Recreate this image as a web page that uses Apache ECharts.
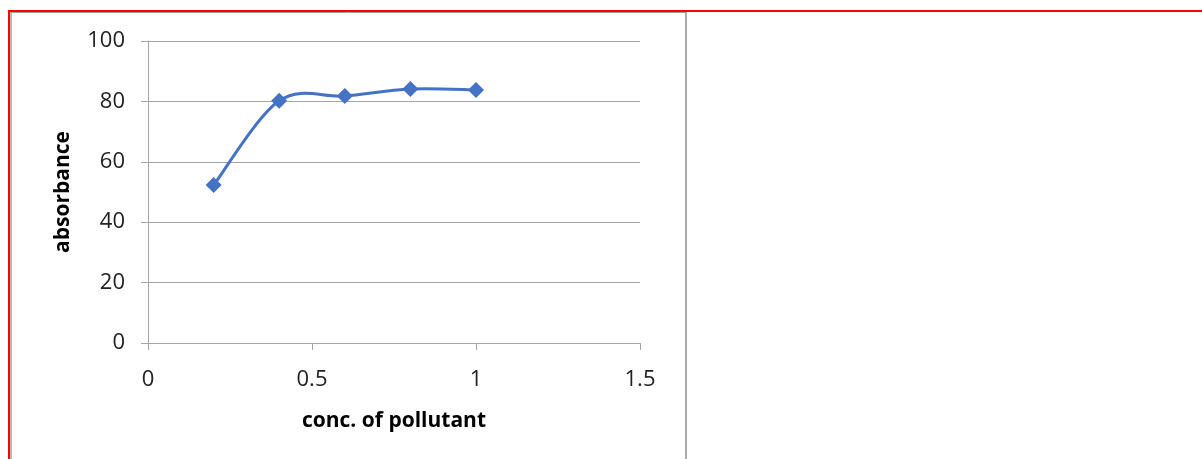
<!DOCTYPE html>
<html>
<head>
<meta charset="utf-8">
<title>absorbance vs conc. of pollutant</title>
<script src="https://cdn.jsdelivr.net/npm/echarts@6/dist/echarts.min.js"></script>
<style>
  html, body { margin: 0; padding: 0; background: #ffffff; }
  #chart { width: 1202px; height: 459px; }
</style>
</head>
<body>
<div id="chart"></div>
<script>
// Concentration of pollutant (x) and measured absorbance (y)
const concentration = [0.2, 0.4, 0.6, 0.8, 1.0];
const absorbance = [52.3, 80.2, 81.8, 84.1, 83.8];

const xTicks = { min: 0, max: 1.5, interval: 0.5 };
const yTicks = { min: 0, max: 100, interval: 20 };

const xTitle = 'conc. of pollutant';
const yTitle = 'absorbance';

const FONT = '"Open Sans", "Noto Sans", sans-serif';
const GRID_GRAY = '#a6a6a6';
const LINE_BLUE = '#4472c4';

const points = concentration.map((c, i) => [c, absorbance[i]]);

// Smoothed connector: Catmull-Rom style cubic segments through the data points,
// positioned with the grid's own coordinate system.
function renderSmoothCurve(params, api) {
  if (params.dataIndex !== 0) return null;
  const px = points.map(p => api.coord(p));
  const n = px.length;
  const children = [];
  for (let i = 0; i < n - 1; i++) {
    const p0 = px[Math.max(i - 1, 0)];
    const p1 = px[i];
    const p2 = px[i + 1];
    const p3 = px[Math.min(i + 2, n - 1)];
    children.push({
      type: 'bezierCurve',
      shape: {
        x1: p1[0], y1: p1[1],
        x2: p2[0], y2: p2[1],
        cpx1: p1[0] + (p2[0] - p0[0]) / 6,
        cpy1: p1[1] + (p2[1] - p0[1]) / 6,
        cpx2: p2[0] - (p3[0] - p1[0]) / 6,
        cpy2: p2[1] - (p3[1] - p1[1]) / 6
      },
      style: { stroke: LINE_BLUE, lineWidth: 3, fill: null, lineCap: 'round' }
    });
  }
  return { type: 'group', children: children };
}

const chart = echarts.init(document.getElementById('chart'), null, { renderer: 'canvas' });

chart.setOption({
  backgroundColor: '#ffffff',
  animation: false,
  grid: { left: 148, right: 562, top: 41, bottom: 116, containLabel: false },
  xAxis: {
    type: 'value',
    min: xTicks.min,
    max: xTicks.max,
    interval: xTicks.interval,
    name: xTitle,
    nameLocation: 'middle',
    nameGap: 68,
    nameTextStyle: { fontFamily: FONT, fontSize: 21, fontWeight: 'bold', color: '#000000' },
    axisLine: { show: true, lineStyle: { color: GRID_GRAY, width: 1 } },
    axisTick: { show: true, inside: false, length: 7, lineStyle: { color: GRID_GRAY } },
    axisLabel: { fontFamily: FONT, fontSize: 22, color: '#222222', margin: 26 },
    splitLine: { show: false }
  },
  yAxis: {
    type: 'value',
    min: yTicks.min,
    max: yTicks.max,
    interval: yTicks.interval,
    name: yTitle,
    nameLocation: 'middle',
    nameRotate: 90,
    nameGap: 74,
    nameTextStyle: { fontFamily: FONT, fontSize: 21, fontWeight: 'bold', color: '#000000' },
    axisLine: { show: true, lineStyle: { color: GRID_GRAY, width: 1 } },
    axisTick: { show: true, inside: false, length: 7, lineStyle: { color: GRID_GRAY } },
    axisLabel: { fontFamily: FONT, fontSize: 22, color: '#222222', margin: 23 },
    splitLine: { show: true, lineStyle: { color: GRID_GRAY, width: 1 } }
  },
  series: [
    {
      type: 'custom',
      data: points,
      renderItem: renderSmoothCurve,
      z: 2,
      silent: true
    },
    {
      type: 'scatter',
      data: points,
      symbol: 'diamond',
      symbolSize: 16,
      itemStyle: { color: LINE_BLUE, opacity: 1 },
      z: 3
    }
  ],
  graphic: [
    // chart-area frame
    { type: 'line', shape: { x1: 11, y1: 12.5, x2: 686, y2: 12.5 }, style: { stroke: '#a0a0a0', lineWidth: 1 } },
    { type: 'line', shape: { x1: 11, y1: 12, x2: 11, y2: 459 }, style: { stroke: '#a0a0a0', lineWidth: 1.5 } },
    { type: 'line', shape: { x1: 686, y1: 12, x2: 686, y2: 459 }, style: { stroke: '#909090', lineWidth: 1.5 } },
    // outer red outline
    { type: 'line', shape: { x1: 8, y1: 11, x2: 1202, y2: 11 }, style: { stroke: '#ff0000', lineWidth: 2 } },
    { type: 'line', shape: { x1: 9, y1: 10, x2: 9, y2: 459 }, style: { stroke: '#ff0000', lineWidth: 2 } }
  ]
});
</script>
</body>
</html>
